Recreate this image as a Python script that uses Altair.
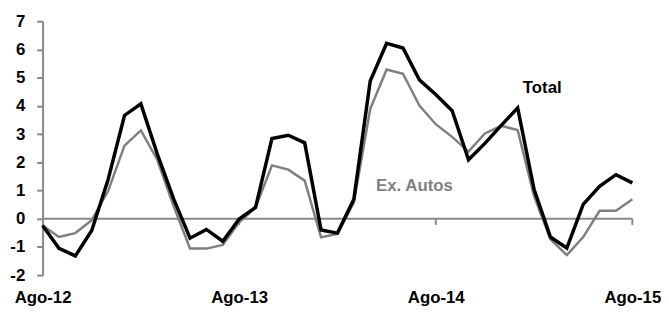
import altair as alt
import pandas as pd

months = list(range(37))
total = [-0.24, -1.05, -1.32, -0.42, 1.39, 3.66, 4.07, 2.3, 0.7, -0.69, -0.38, -0.8,
         -0.01, 0.4, 2.84, 2.96, 2.69, -0.40, -0.51, 0.69, 4.88, 6.22, 6.05, 4.92,
         4.4, 3.83, 2.09, 2.67, 3.31, 3.93, 1.04, -0.65, -1.04, 0.51, 1.15, 1.56, 1.27]
ex_autos = [-0.24, -0.65, -0.51, -0.05, 0.98, 2.59, 3.13, 2.09, 0.45, -1.06, -1.06, -0.93,
            -0.13, 0.4, 1.89, 1.74, 1.35, -0.66, -0.54, 0.57, 3.89, 5.29, 5.14, 4.01,
            3.35, 2.9, 2.38, 3.02, 3.29, 3.14, 0.80, -0.73, -1.29, -0.65, 0.28, 0.28, 0.69]
tick_months = [0, 12, 24, 36]
tick_labels = ["Ago-12", "Ago-13", "Ago-14", "Ago-15"]
y_ticks = list(range(-2, 8))

FONT = "Liberation Sans"
GRAY = "#888888"

df = pd.DataFrame({"m": months, "total": total, "ex": ex_autos})

label_expr = "[" + ",".join(f"'{t}'" for t in tick_labels) + "][round(datum.value/12)]"

xscale = alt.Scale(domain=[0, 36], nice=False)
xaxis = alt.Axis(values=tick_months, labelExpr=label_expr, domain=False, ticks=False,
                 grid=False, labelFont=FONT, labelFontSize=17, labelFontWeight="bold",
                 labelColor="black", labelPadding=15, labelAlign="center",
                 labelOverlap=False, labelFlush=False, title=None)
yscale = alt.Scale(domain=[-2, 7], nice=False)
yaxis = alt.Axis(values=y_ticks, grid=False, domainColor=GRAY, tickColor=GRAY, tickSize=6,
                 domainWidth=2, tickWidth=2, labelOverlap=False, labelExpr="datum.value + ''",
                 labelFont=FONT, labelFontSize=17, labelFontWeight="bold", labelColor="black",
                 labelPadding=12, title=None)


def X(f):
    return alt.X(f, scale=xscale, axis=xaxis)


def Y(f):
    return alt.Y(f, scale=yscale, axis=yaxis)


zero = alt.Chart(pd.DataFrame({"a": [0], "b": [36], "y": [0]})).mark_rule(
    color=GRAY, strokeWidth=2).encode(x=X("a:Q"), x2="b:Q", y=Y("y:Q"))

ticks = alt.Chart(pd.DataFrame({"m": tick_months[1:], "y0": [0] * 3, "y1": [-0.22] * 3})).mark_rule(
    color=GRAY, strokeWidth=2).encode(x=X("m:Q"), y=Y("y0:Q"), y2="y1:Q")

base = alt.Chart(df)
ex_line = base.mark_line(color="#7f7f7f", strokeWidth=2.5).encode(x=X("m:Q"), y=Y("ex:Q"))
tot_line = base.mark_line(color="black", strokeWidth=3.5).encode(x=X("m:Q"), y=Y("total:Q"))

txt = alt.Chart(pd.DataFrame({"m": [30.5, 22.7], "v": [4.64, 1.14],
                              "t": ["Total", "Ex. Autos"], "c": ["black", "#808080"]})).mark_text(
    font=FONT, fontSize=17, fontWeight="bold", align="center", baseline="middle").encode(
    x=X("m:Q"), y=Y("v:Q"), text="t:N", color=alt.Color("c:N", scale=None))

chart = alt.layer(zero, ticks, ex_line, tot_line, txt).properties(
    width=597, height=257,
    autosize=alt.AutoSizeParams(type="none"),
    padding={"left": 35, "top": 11.5, "right": 29, "bottom": 40},
).configure_view(stroke=None)

chart.save("out.html", embed_options={"renderer": "svg", "actions": False})
